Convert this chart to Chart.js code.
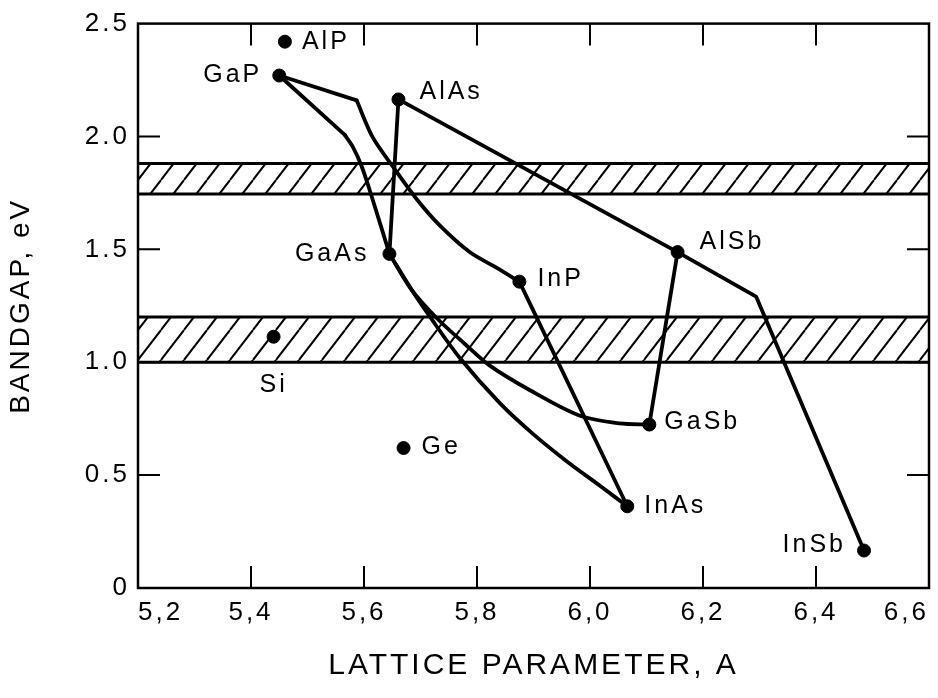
<!DOCTYPE html>
<html>
<head>
<meta charset="utf-8">
<script src="https://cdn.jsdelivr.net/npm/chart.js@4.4.1/dist/chart.umd.min.js"></script>
<style>
html,body{margin:0;padding:0;background:#fff;}
#chart{display:block;}
</style>
</head>
<body>
<canvas id="chart" width="938" height="698"></canvas>
<script>
// compounds: lattice parameter (A) and bandgap (eV)
const compounds = ['AlP', 'GaP', 'AlAs', 'GaAs', 'InP', 'AlSb', 'GaSb', 'InAs', 'InSb', 'Si', 'Ge'];
const latticeA = [5.46, 5.45, 5.661, 5.645, 5.875, 6.155, 6.105, 6.066, 6.485, 5.44, 5.67];
const bandgapEv = [2.42, 2.27, 2.164, 1.48, 1.357, 1.488, 0.724, 0.362, 0.166, 1.113, 0.62];

// alloy lines (straight part from GaP, then the bent part)
const gapKinkInpX = [5.45, 5.587];
const gapKinkInpY = [2.27, 2.16];
const gapInpX = [5.587, 5.615, 5.651, 5.693, 5.734, 5.787, 5.835, 5.875];
const gapInpY = [2.16, 1.998, 1.867, 1.723, 1.606, 1.488, 1.418, 1.357];

const gapKinkGaasX = [5.45, 5.566];
const gapKinkGaasY = [2.27, 2.007];
const gapGaasX = [5.566, 5.58, 5.596, 5.615, 5.645];
const gapGaasY = [2.007, 1.955, 1.867, 1.723, 1.48];

const gaasInasX = [5.645, 5.684, 5.716, 5.769, 5.84, 5.898, 5.958, 6.017, 6.066];
const gaasInasY = [1.48, 1.322, 1.204, 1.021, 0.82, 0.685, 0.563, 0.454, 0.362];

const gaasGasbX = [5.645, 5.684, 5.729, 5.778, 5.822, 5.893, 5.981, 6.052, 6.105];
const gaasGasbY = [1.48, 1.322, 1.195, 1.082, 0.986, 0.877, 0.764, 0.729, 0.724];

const alasGaasX = [5.661, 5.645];
const alasGaasY = [2.164, 1.48];

const alasAlsbX = [5.661, 6.155];
const alasAlsbY = [2.164, 1.488];

const alsbInsbX = [6.155, 6.294, 6.485];
const alsbInsbY = [1.488, 1.291, 0.166];

const alsbGasbX = [6.155, 6.105];
const alsbGasbY = [1.488, 0.724];

const inpInasX = [5.875, 6.066];
const inpInasY = [1.357, 0.362];

// hatched bands (eV)
const bandLow = [1.745, 1.0];
const bandHigh = [1.88, 1.2];

const xTickValues = [5.2, 5.4, 5.6, 5.8, 6.0, 6.2, 6.4, 6.6];
const xTickLabels = ['5,2', '5,4', '5,6', '5,8', '6,0', '6,2', '6,4', '6,6'];
const yTickValues = [0, 0.5, 1.0, 1.5, 2.0, 2.5];
const yTickLabels = ['0', '0.5', '1.0', '1.5', '2.0', '2.5'];

// where each name sits next to its dot
const labelPlace = {
    AlP: {dx: 17, dy: 0, align: 'left'},
    GaP: {dx: -17, dy: 0, align: 'right'},
    AlAs: {dx: 21, dy: -7, align: 'left'},
    GaAs: {dx: -20, dy: 0, align: 'right'},
    InP: {dx: 18, dy: -3, align: 'left'},
    AlSb: {dx: 22, dy: -10, align: 'left'},
    GaSb: {dx: 15, dy: -2, align: 'left'},
    InAs: {dx: 17, dy: 0, align: 'left'},
    InSb: {dx: -18, dy: -5, align: 'right'},
    Si: {dx: 0, dy: 48, align: 'center'},
    Ge: {dx: 18, dy: -1, align: 'left'}
};

const FONT = "'Liberation Sans', Arial, sans-serif";
const TICK = 22;

const canvas = document.getElementById('chart');
const ctx = canvas.getContext('2d');

function hatch(){
    const t = document.createElement('canvas');
    t.width = 23;
    t.height = 30;
    const c = t.getContext('2d');
    c.strokeStyle = '#000';
    c.lineWidth = 2;
    c.beginPath();
    [-23, 0, 23].forEach(o => {
        c.moveTo(o, 30);
        c.lineTo(o + 23, 0);
    });
    c.stroke();
    return ctx.createPattern(t, 'repeat');
}

const pts = (xs, ys) => xs.map((x, i) => ({x: x, y: ys[i]}));

function lineSet(xs, ys, curved){
    return {
        data: pts(xs, ys),
        showLine: true,
        borderColor: '#000',
        borderWidth: 3.8,
        pointRadius: 0,
        borderJoinStyle: 'round',
        borderCapStyle: 'round',
        tension: curved ? 0.3 : 0,
        order: 2
    };
}

const pattern = hatch();
const x0 = xTickValues[0];
const x1 = xTickValues[xTickValues.length - 1];

const bandSets = [];
bandHigh.forEach((hi, i) => {
    bandSets.push({
        data: [{x: x0, y: hi}, {x: x1, y: hi}],
        showLine: true, borderColor: '#000', borderWidth: 3, pointRadius: 0,
        fill: false, order: 10
    });
    bandSets.push({
        data: [{x: x0, y: bandLow[i]}, {x: x1, y: bandLow[i]}],
        showLine: true, borderColor: '#000', borderWidth: 3, pointRadius: 0,
        fill: '-1', backgroundColor: pattern, order: 10
    });
});

const datasets = [
    {
        data: pts(latticeA, bandgapEv),
        pointRadius: 6.5,
        pointBackgroundColor: '#000',
        pointBorderColor: '#000',
        order: 0
    },
    lineSet(gapKinkInpX, gapKinkInpY, false),
    lineSet(gapInpX, gapInpY, true),
    lineSet(gapKinkGaasX, gapKinkGaasY, false),
    lineSet(gapGaasX, gapGaasY, true),
    lineSet(gaasInasX, gaasInasY, true),
    lineSet(gaasGasbX, gaasGasbY, true),
    lineSet(alasGaasX, alasGaasY, false),
    lineSet(alasAlsbX, alasAlsbY, false),
    lineSet(alsbInsbX, alsbInsbY, false),
    lineSet(alsbGasbX, alsbGasbY, false),
    lineSet(inpInasX, inpInasY, false)
].concat(bandSets);

const spacing = {
    id: 'spacing',
    beforeDraw(chart){
        chart.ctx.letterSpacing = '3px';
    }
};

// box round the plot and the short inner tick marks on all four sides
const frame = {
    id: 'frame',
    afterDatasetsDraw(chart){
        const c = chart.ctx;
        const a = chart.chartArea;
        const xs = chart.scales.x;
        const ys = chart.scales.y;
        c.save();
        c.strokeStyle = '#000';
        c.lineWidth = 2.5;
        c.strokeRect(a.left, a.top, a.right - a.left, a.bottom - a.top);
        c.lineWidth = 2;
        c.beginPath();
        xTickValues.slice(1, -1).forEach(v => {
            const p = xs.getPixelForValue(v);
            c.moveTo(p, a.bottom);
            c.lineTo(p, a.bottom - TICK);
            c.moveTo(p, a.top);
            c.lineTo(p, a.top + TICK);
        });
        yTickValues.slice(1, -1).forEach(v => {
            const p = ys.getPixelForValue(v);
            c.moveTo(a.left, p);
            c.lineTo(a.left + TICK, p);
            c.moveTo(a.right, p);
            c.lineTo(a.right - TICK, p);
        });
        c.stroke();
        c.restore();
    }
};

const names = {
    id: 'names',
    afterDatasetsDraw(chart){
        const c = chart.ctx;
        const xs = chart.scales.x;
        const ys = chart.scales.y;
        c.save();
        c.fillStyle = '#000';
        c.font = '25px ' + FONT;
        c.letterSpacing = '3px';
        c.textBaseline = 'middle';
        compounds.forEach((name, i) => {
            const p = labelPlace[name];
            c.textAlign = p.align;
            c.fillText(name, xs.getPixelForValue(latticeA[i]) + p.dx, ys.getPixelForValue(bandgapEv[i]) + p.dy);
        });
        c.restore();
    }
};

new Chart(ctx, {
    type: 'scatter',
    data: {datasets: datasets},
    options: {
        responsive: false,
        animation: false,
        layout: {padding: {top: 15, right: 8, left: 0, bottom: 0}},
        plugins: {
            legend: {display: false},
            tooltip: {enabled: false}
        },
        scales: {
            x: {
                type: 'linear',
                min: x0,
                max: x1,
                afterBuildTicks: s => { s.ticks = xTickValues.map(v => ({value: v})); },
                afterFit: s => { s.height = 110; },
                grid: {display: false, drawTicks: false},
                border: {display: false},
                ticks: {
                    color: '#000',
                    font: {family: FONT, size: 26},
                    padding: 9,
                    align: 'inner',
                    maxRotation: 0,
                    callback: (v, i) => xTickLabels[i]
                },
                title: {
                    display: true,
                    text: 'LATTICE PARAMETER, A',
                    color: '#000',
                    font: {family: FONT, size: 30},
                    padding: {top: 0, bottom: 14}
                }
            },
            y: {
                type: 'linear',
                min: yTickValues[0],
                max: yTickValues[yTickValues.length - 1],
                afterBuildTicks: s => { s.ticks = yTickValues.map(v => ({value: v})); },
                afterFit: s => { s.width = 138; },
                grid: {display: false, drawTicks: false},
                border: {display: false},
                ticks: {
                    color: '#000',
                    font: {family: FONT, size: 26},
                    padding: 8,
                    callback: (v, i) => yTickLabels[i]
                },
                title: {
                    display: true,
                    text: 'BANDGAP, eV',
                    color: '#000',
                    font: {family: FONT, size: 28},
                    padding: {top: 4, bottom: 0}
                }
            }
        }
    },
    plugins: [spacing, frame, names]
});
</script>
</body>
</html>
